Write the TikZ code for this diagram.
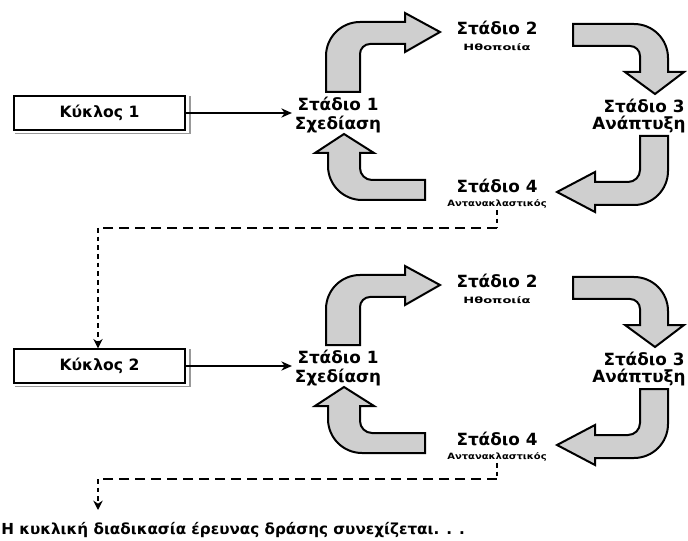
\documentclass[tikz,border=0pt]{standalone}
\usepackage{fontspec}
\setmainfont{DejaVu Sans}
\usepackage{graphicx}
\usetikzlibrary{arrows.meta}
\newcommand{\stagecycle}[2]{%
\begin{scope}[shift={(0,#2)}]
\node[stage] (s1#1) at (338,115) {Στάδιο 1\\Σχεδίαση};
\node[stage] (s2#1) at (497,28) {Στάδιο 2};
\node[stagesub] (s2b#1) at (497,47) {\scalebox{1.5}[1]{Ηθοποιία}};
\node[stage] (s3#1) at (644,106) {Στάδιο 3};
\node[stage] (s3b#1) at (639,125) {Ανάπτυξη};
\node[stage] (s4#1) at (497,186) {Στάδιο 4};
\node[stagesub] (s4b#1) at (497,204) {\scalebox{1.15}[1]{Αντανακλαστικός}};
% arrow A: up then right
\draw[garrow] (326,92) -- (326,56) .. controls (326,37.2) and (341.2,22) .. (360,22)
  -- (405,22) -- (405,13) -- (440,32) -- (405,52) -- (405,44) -- (370,44)
  .. controls (364.5,44) and (360,48.5) .. (360,54) -- (360,92) -- cycle;
% arrow B: right then down
\draw[garrow] (573,24) -- (634,24) .. controls (652.8,24) and (668,39.2) .. (668,58)
  -- (668,72) -- (684,72) -- (655,94) -- (625,72) -- (640,72) -- (640,56)
  .. controls (640,50.5) and (635.5,46) .. (630,46) -- (573,46) -- cycle;
% arrow C: down then left
\draw[garrow] (640,136) -- (668,136) -- (668,171) .. controls (668,189.8) and (652.8,205) .. (634,205)
  -- (595,205) -- (595,212) -- (557,192) -- (595,172) -- (595,182) -- (628,182)
  .. controls (634.6,182) and (640,176.6) .. (640,170) -- cycle;
% arrow D: left then up
\draw[garrow] (425,180) -- (425,200) -- (362,200) .. controls (343.2,200) and (328,184.8) .. (328,166)
  -- (328,153) -- (315,153) -- (344,134) -- (374,153) -- (360,153) -- (360,168)
  .. controls (360,174.6) and (365.4,180) .. (372,180) -- cycle;
\end{scope}}
\begin{document}
\begin{tikzpicture}[x=0.75pt,y=-0.75pt,
  garrow/.style={draw=black, line width=1.5pt, fill=black!19, line join=miter},
  stage/.style={font=\bfseries\fontsize{12.6}{14.25}\selectfont, inner sep=2pt, align=center},
  stagesub/.style={font=\bfseries\fontsize{6.5}{7}\selectfont, inner sep=1pt},
  cyclebox/.style={draw, fill=white, line width=1.5pt, minimum width=128pt, minimum height=25pt, inner sep=0pt, font=\bfseries\fontsize{11.7}{13}\selectfont},
  flow/.style={line width=0.9pt, -{Stealth[length=8pt,width=7pt]}},
  hdash/.style={line width=1.5pt, dash pattern=on 7.5pt off 4.5pt},
  vdash/.style={line width=1.5pt, dash pattern=on 3.5pt off 3pt},
  vdarrow/.style={vdash, -{Stealth[length=7pt,width=7pt]}},
  shadowline/.style={draw=black!40, line width=1pt}
]
\useasboundingbox (0,0) rectangle (688,541);
\clip (0,0) rectangle (688,541);
\fill[white] (0,0) rectangle (688,541);

\stagecycle{1}{0}
\stagecycle{2}{253}

% cycle boxes
\node[cyclebox] (k1) at (99.5,113) {Κύκλος 1};
\draw[shadowline] ([shift={(4,1)}]k1.north east) -- ([shift={(4,3)}]k1.south east) -- ([shift={(2,3)}]k1.south west);
\node[cyclebox] (k2) at (99.5,366) {Κύκλος 2};
\draw[shadowline] ([shift={(4,1)}]k2.north east) -- ([shift={(4,3)}]k2.south east) -- ([shift={(2,3)}]k2.south west);

\draw[flow] (k1.east) -- (s11.west |- k1.east);
\draw[flow] (k2.east) -- (s12.west |- k2.east);

% final text
\node[font=\bfseries\fontsize{11.4}{13}\selectfont, anchor=west, inner sep=0pt] (fin) at (1,530) {Η κυκλική διαδικασία έρευνας δράσης συνεχίζεται. . .};

% dashed connectors
\coordinate (c1a) at (499,228);
\coordinate (c1b) at (98,228);
\draw[vdash] (s4b1.south) -- (s4b1.south |- c1a);
\draw[hdash] (s4b1.south |- c1a) -- (c1b);
\draw[vdarrow] (c1b) -- (k2.north -| c1b);

\coordinate (c2a) at (499,479);
\coordinate (c2b) at (98,479);
\coordinate (c2end) at (98,510);
\draw[vdash] (s4b2.south) -- (s4b2.south |- c2a);
\draw[hdash] (s4b2.south |- c2a) -- (c2b);
\draw[vdarrow] (c2b) -- (c2end);
\end{tikzpicture}
\end{document}
